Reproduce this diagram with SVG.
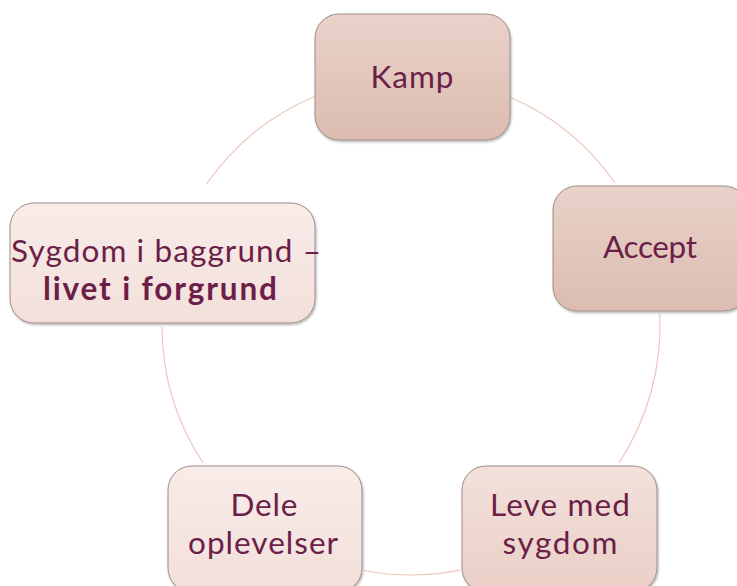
<svg xmlns="http://www.w3.org/2000/svg" width="737" height="586" viewBox="0 0 737 586">
<defs>
<linearGradient id="gDark" x1="0" y1="0" x2="0" y2="1"><stop offset="0" stop-color="#e9d2ca"/><stop offset="1" stop-color="#dcbcb0"/></linearGradient>
<linearGradient id="gMid" x1="0" y1="0" x2="0" y2="1"><stop offset="0" stop-color="#f2e1db"/><stop offset="1" stop-color="#eacfc6"/></linearGradient>
<linearGradient id="gLight" x1="0" y1="0" x2="0" y2="1"><stop offset="0" stop-color="#f8ece9"/><stop offset="1" stop-color="#f3dfda"/></linearGradient>
<filter id="sh" x="-10%" y="-10%" width="120%" height="120%"><feDropShadow dx="1" dy="1.5" stdDeviation="1" flood-color="#000" flood-opacity="0.3"/></filter>
</defs>
<style>
.box{stroke:#a08c88;stroke-width:1;filter:url(#sh)}
.t{font-family:Lato,"Open Sans",sans-serif;font-size:31.5px;fill:#6b1f48;text-anchor:middle}
.arc{fill:none;stroke:#ecc7bb;stroke-width:1.2}
</style>
<rect width="737" height="586" fill="#ffffff"/>
<g id="connectors">
<path class="arc" d="M511,97.5 A249,249 0 0 1 615,183"/>
<path class="arc" d="M659.7,314 A249,249 0 0 1 618.9,463"/>
<path class="arc" d="M460,570.1 A249,249 0 0 1 364,570.5"/>
<path class="arc" d="M203.1,463 A249,249 0 0 1 162,327"/>
<path class="arc" d="M206.5,184 A249,249 0 0 1 314,96.7"/>
</g>
<g id="kamp">
<rect class="box" x="315" y="14" width="195" height="126" rx="24" fill="url(#gDark)"/>
<text class="t" x="412" y="88" textLength="83">Kamp</text>
</g>
<g id="accept">
<rect class="box" x="553" y="186" width="195" height="125" rx="24" fill="url(#gDark)"/>
<text class="t" x="650" y="258" textLength="94">Accept</text>
</g>
<g id="leve">
<rect class="box" x="462" y="466" width="195" height="126" rx="24" fill="url(#gMid)"/>
<text class="t" x="560" y="516" textLength="140">Leve med</text>
<text class="t" x="560" y="554" textLength="115">sygdom</text>
</g>
<g id="dele">
<rect class="box" x="168" y="466" width="194" height="126" rx="24" fill="url(#gLight)"/>
<text class="t" x="264" y="516" textLength="67">Dele</text>
<text class="t" x="263" y="554" textLength="150">oplevelser</text>
</g>
<g id="sygdom">
<rect class="box" x="10" y="203" width="305" height="120" rx="24" fill="url(#gLight)"/>
<text class="t" x="166" y="262" textLength="310">Sygdom i baggrund –</text>
<text class="t" x="160" y="300" font-weight="bold" textLength="234">livet i forgrund</text>
</g>
</svg>
